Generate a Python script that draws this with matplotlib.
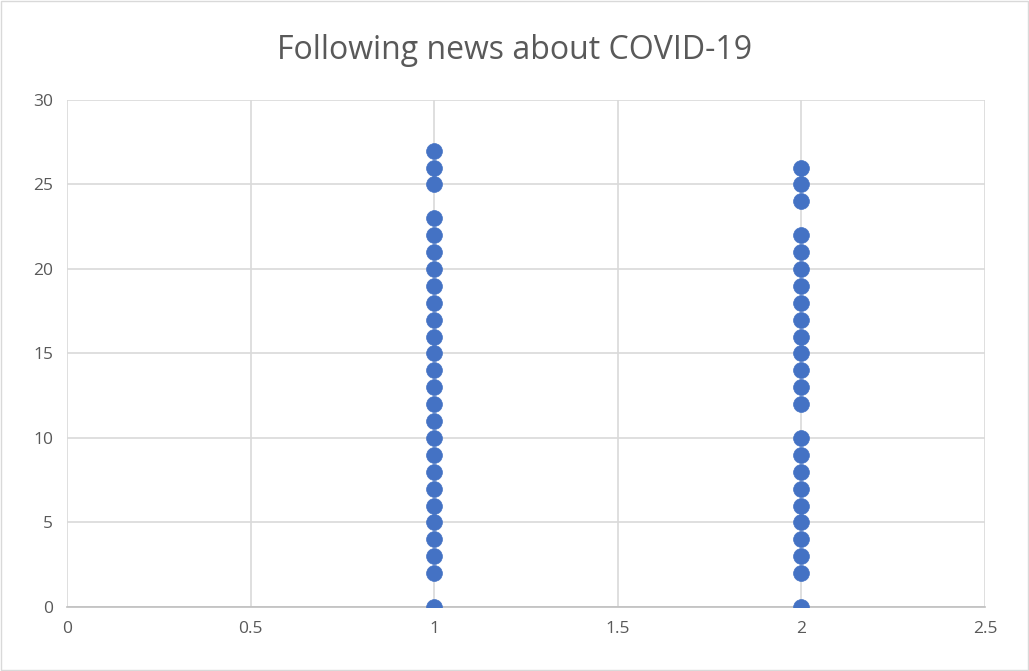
import matplotlib
matplotlib.use('Agg')
import matplotlib.pyplot as plt
from matplotlib.patches import Rectangle

# Responses per group (x = group, y = score)
group1_y = [0, 2, 3, 4, 5, 6, 7, 8, 9, 10, 11, 12, 13, 14, 15, 16, 17, 18, 19,
            20, 21, 22, 23, 25, 26, 27]
group2_y = [0, 2, 3, 4, 5, 6, 7, 8, 9, 10, 12, 13, 14, 15, 16, 17, 18, 19, 20,
            21, 22, 24, 25, 26]
group1_x = [1] * len(group1_y)
group2_x = [2] * len(group2_y)

xticks = [0, 0.5, 1, 1.5, 2, 2.5]
xtick_labels = ['0', '0.5', '1', '1.5', '2', '2.5']
yticks = [0, 5, 10, 15, 20, 25, 30]

plt.rcParams['font.family'] = ['Open Sans', 'DejaVu Sans']

fig = plt.figure(figsize=(10.29, 6.71), dpi=100)
ax = fig.add_axes([0.0651, 0.0954, 0.8921, 0.7556])

ax.scatter(group1_x + group2_x, group1_y + group2_y, s=130, color='#4472C4',
           edgecolors='#4472C4', linewidths=0.5, zorder=3)

ax.set_xlim(0, 2.5)
ax.set_ylim(0, 30)
ax.set_xticks(xticks)
ax.set_xticklabels(xtick_labels)
ax.set_yticks(yticks)
ax.grid(True, color='#D9D9D9', linewidth=1.2)
ax.set_axisbelow(True)
for side in ['top', 'right', 'left']:
    ax.spines[side].set_visible(False)
ax.spines['bottom'].set_color('#BFBFBF')
ax.spines['bottom'].set_linewidth(1.2)
ax.tick_params(length=0, labelsize=12.5, colors='#595959', pad=10)

fig.text(0.5, 0.925, 'Following news about COVID-19', ha='center', va='center',
         fontsize=23, color='#595959')

# light frame around the chart
fig.patches.append(Rectangle((0.001, 0.0015), 0.998, 0.997, transform=fig.transFigure,
                             fill=False, edgecolor='#D9D9D9', linewidth=1))

fig.savefig('out.png', dpi=100)
